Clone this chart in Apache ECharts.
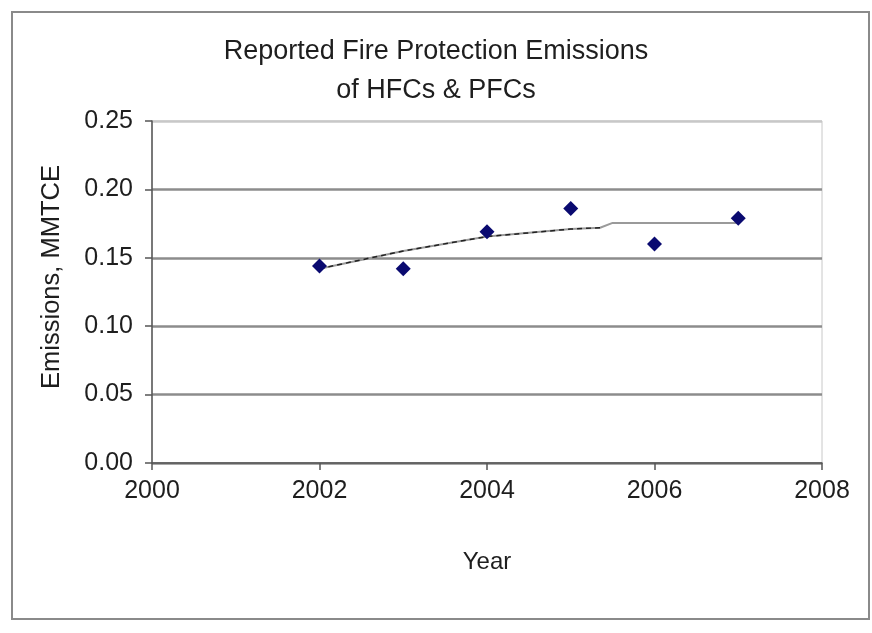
<!DOCTYPE html>
<html>
<head>
<meta charset="utf-8">
<script src="https://cdn.jsdelivr.net/npm/echarts@6/dist/echarts.min.js"></script>
<style>html,body{margin:0;padding:0;background:#fff;}#c{width:872px;height:633px;}</style>
</head>
<body>
<div id="c"></div>
<script>
var years = [2002, 2003, 2004, 2005, 2006, 2007];
var emissions = [0.144, 0.142, 0.169, 0.186, 0.160, 0.179];
var trendYears = [2002, 2003, 2004, 2005, 2005.35, 2005.5, 2007];
var trendValues = [0.142, 0.155, 0.1655, 0.171, 0.172, 0.1755, 0.1755];
var yTicks = [0, 0.05, 0.10, 0.15, 0.20, 0.25];
var xTicks = [2000, 2002, 2004, 2006, 2008];

var FONT = '"Liberation Sans", Arial, sans-serif';
var chart = echarts.init(document.getElementById('c'), null, {renderer: 'canvas'});

var pts = years.map(function (y, i) { return [y, emissions[i]]; });
var trend = trendYears.map(function (y, i) { return [y, trendValues[i]]; });
var trendDash = trend.filter(function (p) { return p[0] <= 2005.4; });

chart.setOption({
  animation: false,
  backgroundColor: '#fff',
  title: {
    text: 'Reported Fire Protection Emissions\nof HFCs & PFCs',
    left: 'center',
    top: 27,
    textStyle: {fontFamily: FONT, fontSize: 27, fontWeight: 'normal', color: '#1e1e1e', lineHeight: 39}
  },
  graphic: [{
    type: 'rect',
    shape: {x: 12, y: 12, width: 857, height: 607},
    style: {fill: 'none', stroke: '#8a8a8a', lineWidth: 2},
    z: 0
  }],
  grid: {left: 152, right: 50, top: 121, bottom: 170, show: true, borderColor: '#c8c8c8', borderWidth: 1},
  xAxis: {
    type: 'value', min: xTicks[0], max: xTicks[xTicks.length - 1], interval: 2,
    name: 'Year', nameLocation: 'middle', nameGap: 87,
    nameTextStyle: {fontFamily: FONT, fontSize: 24, color: '#1e1e1e'},
    axisLine: {lineStyle: {color: '#555', width: 1.5}},
    axisTick: {show: true, length: 7, lineStyle: {color: '#555', width: 1.5}},
    axisLabel: {fontFamily: FONT, fontSize: 25, color: '#1e1e1e', margin: 16, formatter: function (v) { return String(v); }},
    splitLine: {show: false}
  },
  yAxis: {
    type: 'value', min: yTicks[0], max: yTicks[yTicks.length - 1], interval: 0.05,
    name: 'Emissions, MMTCE', nameLocation: 'middle', nameGap: 87,
    nameTextStyle: {fontFamily: FONT, fontSize: 25.5, color: '#1e1e1e', padding: [0, 0, 0, 30]},
    axisLine: {show: true, lineStyle: {color: '#555', width: 1.5}},
    axisTick: {show: true, length: 7, lineStyle: {color: '#555', width: 1.5}},
    axisLabel: {fontFamily: FONT, fontSize: 25, color: '#1e1e1e', margin: 19, formatter: function (v) { return v.toFixed(2); }},
    splitLine: {show: true, lineStyle: {color: ['#8c8c8c', '#8c8c8c', '#8c8c8c', '#8c8c8c', '#8c8c8c', '#c8c8c8'], width: 2.5}}
  },
  series: [
    {type: 'line', data: trend, showSymbol: false, symbol: 'none', lineStyle: {color: '#9a9a9a', width: 2}, z: 2},
    {type: 'line', data: trendDash, showSymbol: false, symbol: 'none', lineStyle: {color: '#222', width: 1.5, type: [5, 4]}, z: 3},
    {type: 'scatter', data: pts, symbol: 'diamond', symbolSize: 15, itemStyle: {color: '#0a0a70', opacity: 1}, z: 4}
  ]
});
</script>
</body>
</html>
